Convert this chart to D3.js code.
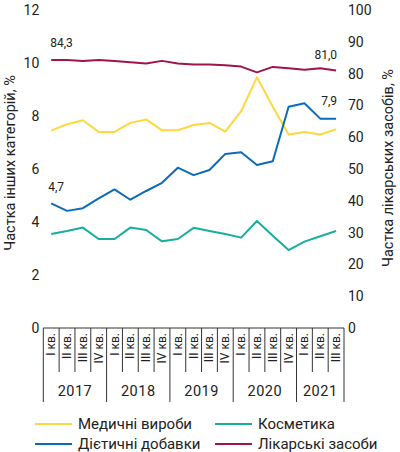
<!DOCTYPE html>
<html><head><meta charset="utf-8">
<script src="https://cdn.jsdelivr.net/npm/d3@7"></script>
<style>
body{margin:0;background:#fff;}
svg{display:block;font-family:Roboto, "Noto Sans", sans-serif;}
</style></head>
<body><svg id="c" width="400" height="452"></svg>
<script>
const years = ["2017","2018","2019","2020","2021"];
const quarters = ["I кв.","II кв.","III кв.","IV кв.","I кв.","II кв.","III кв.","IV кв.","I кв.","II кв.","III кв.","IV кв.","I кв.","II кв.","III кв.","IV кв.","I кв.","II кв.","III кв."];
const yearSpans = [4,4,4,4,3];
const medDevices = [7.45,7.69,7.84,7.40,7.40,7.74,7.87,7.46,7.46,7.66,7.74,7.41,8.18,9.46,8.35,7.30,7.40,7.30,7.50];
const supplements = [4.7,4.42,4.52,4.89,5.23,4.84,5.17,5.48,6.05,5.77,5.96,6.57,6.63,6.15,6.29,8.35,8.48,7.9,7.9];
const cosmetics = [3.55,3.66,3.79,3.36,3.36,3.79,3.70,3.27,3.36,3.78,3.66,3.55,3.41,4.04,3.48,2.94,3.26,3.46,3.66];
const drugs = [84.3,84.3,84.0,84.3,84.0,83.6,83.2,84.0,83.2,82.9,82.9,82.6,82.2,80.4,82.1,81.7,81.2,81.7,81.0];
const leftTicks = [0,2,4,6,8,10,12];
const rightTicks = [0,10,20,30,40,50,60,70,80,90,100];
const seriesNames = ["Медичні вироби","Дієтичні добавки","Косметика","Лікарські засоби"];
const colors = {"Медичні вироби":"#FDD83E","Дієтичні добавки":"#0B6BB8","Косметика":"#17AE9F","Лікарські засоби":"#A0144C"};

const svg = d3.select("#c");
const x0 = 43.3, x1 = 344, yTop = 10, yBase = 328;
const idx = d3.range(quarters.length);
const x = d3.scaleBand().domain(idx).range([x0,x1]).padding(0);
const xc = i => x(i) + x.bandwidth()/2;
const yL = d3.scaleLinear().domain([0,12]).range([yBase,yTop]);
const yR = d3.scaleLinear().domain([0,100]).range([yBase,yTop]);
const textCol = "#222";

// left axis
const gl = svg.append("g").attr("transform",`translate(${x0},0)`)
  .call(d3.axisLeft(yL).tickValues(leftTicks).tickSize(0).tickPadding(4).tickFormat(d3.format("d")));
gl.select(".domain").remove();
gl.selectAll("text").attr("font-size",14).attr("fill",textCol).attr("font-family","Roboto");
// right axis
const gr = svg.append("g").attr("transform",`translate(${x1},0)`)
  .call(d3.axisRight(yR).tickValues(rightTicks).tickSize(0).tickPadding(4).tickFormat(d3.format("d")));
gr.select(".domain").remove();
gr.selectAll("text").attr("font-size",14).attr("fill",textCol).attr("font-family","Roboto");

// axis titles
svg.append("text").attr("transform","translate(15,163) rotate(-90)").attr("text-anchor","middle")
  .attr("font-size",14.5).attr("fill",textCol).text("Частка інших категорій, %");
svg.append("text").attr("transform","translate(393,168) rotate(-90)").attr("text-anchor","middle")
  .attr("font-size",14.5).attr("fill",textCol).text("Частка лікарських засобів, %");

// x category box
const lc = "#333";
svg.append("line").attr("x1",x0).attr("x2",x1).attr("y1",yBase).attr("y2",yBase).attr("stroke",lc).attr("stroke-width",1);
let start = 0;
const yearBounds = [0];
yearSpans.forEach(s => { start += s; yearBounds.push(start); });
idx.forEach(i => {
  if (!yearBounds.includes(i)) {
    svg.append("line").attr("x1",x(i)).attr("x2",x(i)).attr("y1",yBase).attr("y2",372).attr("stroke",lc).attr("stroke-width",1);
  }
});
yearBounds.forEach(b => {
  const xx = b < quarters.length ? x(b) : x1;
  svg.append("line").attr("x1",xx).attr("x2",xx).attr("y1",yBase).attr("y2",402).attr("stroke",lc).attr("stroke-width",1);
});
idx.forEach(i => {
  svg.append("text").attr("transform",`translate(${xc(i)+4},333) rotate(-90)`).attr("text-anchor","end")
    .attr("font-size",12).attr("fill",textCol).text(quarters[i]);
});
years.forEach((yr,k) => {
  const a = x(yearBounds[k]);
  const b = yearBounds[k+1] < quarters.length ? x(yearBounds[k+1]) : x1;
  svg.append("text").attr("x",(a+b)/2).attr("y",396).attr("text-anchor","middle")
    .attr("font-size",14.5).attr("fill",textCol).attr("letter-spacing",0.5).text(yr);
});

// lines
const lineL = d3.line().x((d,i)=>xc(i)).y(d=>yL(d));
const lineR = d3.line().x((d,i)=>xc(i)).y(d=>yR(d));
const addLine = (data, gen, name) => svg.append("path").datum(data).attr("d",gen)
  .attr("fill","none").attr("stroke",colors[name]).attr("stroke-width",2).attr("stroke-linejoin","round");
addLine(drugs, lineR, "Лікарські засоби");
addLine(medDevices, lineL, "Медичні вироби");
addLine(cosmetics, lineL, "Косметика");
addLine(supplements, lineL, "Дієтичні добавки");

// value labels
const fmt = v => d3.format(".1f")(v).replace(".",",");
const last = quarters.length-1;
svg.append("text").attr("x",xc(0)-1).attr("y",yR(drugs[0])-13).attr("font-size",12).attr("fill",textCol).text(fmt(drugs[0]));
svg.append("text").attr("x",xc(0)-3).attr("y",yL(supplements[0])-12).attr("font-size",12).attr("fill",textCol).text(fmt(supplements[0]));
svg.append("text").attr("x",xc(last)+1).attr("y",yR(drugs[last])-11).attr("text-anchor","end").attr("font-size",12).attr("fill",textCol).text(fmt(drugs[last]));
svg.append("text").attr("x",xc(last)+1).attr("y",yL(supplements[last])-14).attr("text-anchor","end").attr("font-size",12).attr("fill",textCol).text(fmt(supplements[last]));

// legend
const leg = [
  {name:"Медичні вироби", lx:35, tx:78, y:424},
  {name:"Дієтичні добавки", lx:35, tx:78, y:444},
  {name:"Косметика", lx:215, tx:258, y:424},
  {name:"Лікарські засоби", lx:215, tx:258, y:444}
];
leg.forEach(l => {
  svg.append("line").attr("x1",l.lx).attr("x2",l.lx+37).attr("y1",l.y).attr("y2",l.y)
    .attr("stroke",colors[l.name]).attr("stroke-width",2);
  svg.append("text").attr("x",l.tx).attr("y",l.y+5).attr("font-size",15).attr("fill",textCol).text(l.name);
});
</script></body></html>
